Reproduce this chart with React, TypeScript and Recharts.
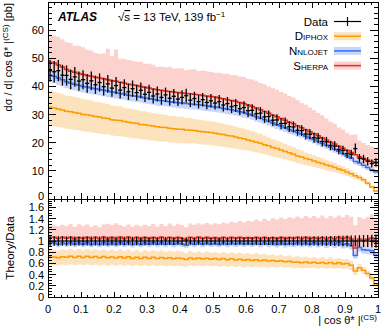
import React from "react";
import { ComposedChart, Area, Line, Scatter, ErrorBar, XAxis, YAxis } from "recharts";

// |cos θ*| bins, width 0.0125 from 0 to 1
const binWidth = 0.0125;

const data = [
  45.6, 45.2, 45.6, 44.0, 43.9, 42.5, 43.4, 41.9, 42.4, 41.1,
  42.0, 40.6, 41.4, 39.9, 40.9, 39.4, 40.3, 38.7, 39.6, 38.1,
  39.2, 37.8, 38.6, 37.2, 37.9, 36.6, 37.3, 36.1, 37.0, 35.8,
  36.5, 35.5, 36.1, 36.7, 35.1, 35.7, 34.6, 35.3, 34.3, 34.9,
  34.1, 34.6, 33.4, 33.9, 32.8, 33.2, 32.1, 32.5, 31.4, 31.5,
  30.3, 30.5, 29.2, 29.3, 28.0, 28.1, 26.8, 26.9, 25.7, 25.6,
  24.4, 24.3, 23.1, 23.0, 21.8, 21.6, 20.4, 20.3, 19.0, 18.8,
  17.5, 17.3, 16.1, 15.9, 17.9, 14.5, 14.2, 13.4, 12.6, 13.0,
];
const dataErrPct = [
  8.5, 8.4, 8.3, 8.4, 8.2, 8.3, 8.1, 8.2, 8.0, 8.1,
  7.9, 8.0, 7.8, 7.9, 7.7, 7.8, 7.6, 7.7, 7.5, 7.6,
  7.4, 7.5, 7.3, 7.4, 7.2, 7.3, 7.1, 7.2, 7.0, 7.1,
  7.0, 6.9, 7.0, 6.8, 6.9, 6.8, 6.9, 6.8, 6.9, 6.8,
  6.8, 6.9, 6.8, 6.9, 6.9, 7.0, 6.9, 7.0, 7.1, 7.0,
  7.2, 7.1, 7.3, 7.2, 7.4, 7.3, 7.5, 7.6, 7.5, 7.7,
  7.8, 7.9, 8.0, 8.1, 8.2, 8.4, 8.5, 8.7, 8.8, 9.0,
  9.2, 9.4, 9.6, 9.8, 10.0, 10.3, 10.6, 10.9, 11.2, 11.5,
];

const sherpa = [
  48.6, 48.3, 47.6, 46.9, 46.0, 45.4, 45.0, 44.6, 44.2, 43.9,
  43.6, 43.3, 43.0, 42.7, 42.4, 42.0, 41.8, 41.5, 41.2, 40.8,
  40.6, 40.3, 40.0, 39.7, 39.4, 39.1, 38.8, 38.6, 38.4, 38.2,
  38.0, 37.8, 37.7, 37.5, 37.4, 37.2, 37.0, 36.8, 36.6, 36.4,
  36.2, 35.9, 35.6, 35.3, 35.0, 34.7, 34.3, 33.9, 33.4, 32.9,
  32.3, 31.7, 31.1, 30.5, 29.8, 29.2, 28.6, 28.0, 27.3, 26.7,
  26.0, 25.3, 24.6, 23.9, 23.2, 22.5, 21.7, 21.0, 20.2, 19.5,
  18.7, 18.0, 17.2, 16.5, 15.7, 15.0, 14.4, 13.8, 13.3, 12.8,
];
const sherpaUpPct = [
  20, 20, 21, 21, 21, 22, 21, 22, 22, 21,
  21, 20, 20, 21, 26, 21, 27, 20, 21, 21,
  21, 21, 22, 21, 22, 22, 21, 22, 22, 23,
  22, 23, 23, 22, 23, 24, 23, 24, 24, 24,
  24, 25, 25, 26, 26, 27, 27, 28, 28, 29,
  30, 30, 31, 31, 32, 33, 33, 34, 34, 35,
  35, 35, 36, 36, 36, 36, 37, 36, 36, 37,
  36, 37, 37, 38, 46, 38, 38, 39, 40, 40,
];
const sherpaDnPct = [
  14, 14, 15, 14, 14, 13, 14, 14, 13, 14,
  14, 13, 14, 14, 13, 14, 14, 13, 14, 14,
  13, 14, 14, 13, 14, 14, 13, 14, 14, 13,
  14, 14, 13, 14, 14, 13, 14, 14, 13, 14,
  14, 13, 14, 14, 13, 14, 14, 13, 14, 14,
  13, 14, 14, 13, 14, 14, 13, 14, 14, 13,
  14, 14, 13, 14, 14, 13, 14, 14, 13, 14,
  14, 13, 14, 14, 13, 14, 14, 13, 14, 14,
];

const nnlojet = [
  44.0, 43.6, 43.0, 42.4, 41.7, 41.1, 40.8, 40.4, 40.0, 39.8,
  39.4, 39.2, 38.9, 38.6, 38.4, 38.0, 37.8, 37.5, 37.3, 36.9,
  36.7, 36.5, 36.2, 35.9, 35.7, 35.4, 35.1, 34.9, 34.8, 34.6,
  34.4, 34.2, 34.1, 33.9, 33.8, 33.6, 33.5, 33.3, 33.1, 32.9,
  32.7, 32.5, 32.2, 31.9, 31.7, 31.4, 31.0, 30.7, 30.2, 29.8,
  29.2, 28.7, 28.2, 27.6, 27.0, 26.4, 25.9, 25.3, 24.7, 24.2,
  23.6, 23.0, 22.3, 21.7, 21.1, 20.4, 19.7, 19.1, 18.4, 17.7,
  17.0, 16.2, 15.3, 14.6, 13.3, 12.8, 12.0, 11.2, 10.4, 9.7,
];
const nnlojetUpPct = [
  4.5, 4.4, 4.6, 4.5, 4.4, 4.6, 4.5, 4.4, 4.6, 4.5,
  4.5, 4.4, 4.6, 4.5, 4.4, 4.6, 4.5, 4.4, 4.6, 4.5,
  4.5, 4.4, 4.6, 4.5, 4.4, 4.6, 4.5, 4.4, 4.6, 4.5,
  4.5, 4.4, 4.6, 4.5, 4.4, 4.6, 4.5, 4.4, 4.6, 4.5,
  4.5, 4.4, 4.6, 4.5, 4.4, 4.6, 4.5, 4.4, 4.6, 4.5,
  4.5, 4.6, 4.6, 4.7, 4.7, 4.8, 4.8, 4.9, 4.9, 5.0,
  5.0, 5.1, 5.1, 5.2, 5.2, 5.3, 5.4, 5.5, 5.6, 5.7,
  5.8, 6.0, 6.2, 6.4, 6.6, 6.8, 7.0, 7.2, 7.4, 7.6,
];
const nnlojetDnPct = [
  5.5, 5.6, 5.4, 5.5, 5.6, 5.4, 5.5, 5.6, 5.4, 5.5,
  5.5, 5.6, 5.4, 5.5, 5.6, 5.4, 5.5, 5.6, 5.4, 5.5,
  5.5, 5.6, 5.4, 5.5, 5.6, 5.4, 5.5, 5.6, 5.4, 5.5,
  5.5, 5.6, 5.4, 5.5, 5.6, 5.4, 5.5, 5.6, 5.4, 5.5,
  5.5, 5.6, 5.4, 5.5, 5.6, 5.4, 5.5, 5.6, 5.4, 5.5,
  5.6, 5.6, 5.7, 5.7, 5.8, 5.8, 5.9, 5.9, 6.0, 6.0,
  6.1, 6.2, 6.3, 6.4, 6.5, 6.6, 6.7, 6.8, 6.9, 7.0,
  7.2, 7.4, 7.6, 7.8, 8.0, 8.3, 8.6, 8.9, 9.2, 9.5,
];

const diphox = [
  32.6, 32.3, 32.0, 31.6, 31.2, 31.0, 30.7, 30.5, 30.0, 29.9,
  29.7, 29.3, 29.1, 28.8, 28.6, 28.2, 28.0, 27.9, 27.5, 27.3,
  27.0, 26.9, 26.5, 26.4, 26.1, 25.9, 25.7, 25.5, 25.4, 25.1,
  25.0, 24.8, 24.8, 24.5, 24.4, 24.3, 24.1, 23.9, 23.8, 23.6,
  23.4, 23.1, 22.9, 22.6, 22.4, 22.0, 21.7, 21.4, 21.0, 20.6,
  20.2, 19.8, 19.3, 18.9, 18.3, 17.9, 17.4, 16.9, 16.4, 15.9,
  15.3, 14.9, 14.4, 14.0, 13.5, 13.0, 12.6, 12.1, 11.7, 11.2,
  10.7, 10.2, 9.6, 9.0, 8.3, 7.6, 6.8, 5.6, 4.3, 2.8,
];
const diphoxUpPct = [
  18, 18, 18, 18, 18, 18, 18, 18, 18, 18,
  18, 18, 18, 18, 18, 18, 18, 18, 18, 18,
  18, 18, 18, 18, 18, 18, 18, 18, 18, 18,
  18, 18, 18, 18, 18, 17, 17, 17, 17, 17,
  17, 17, 17, 17, 17, 17, 17, 17, 17, 17,
  17, 17, 17, 16, 16, 16, 16, 16, 16, 16,
  16, 16, 15, 15, 15, 15, 15, 15, 15, 14,
  14, 14, 14, 14, 14, 13, 13, 13, 13, 13,
];
const diphoxDnPct = [
  20, 20, 20, 20, 20, 20, 20, 20, 20, 20,
  20, 20, 20, 20, 20, 20, 20, 20, 20, 20,
  20, 20, 20, 20, 20, 20, 20, 20, 20, 20,
  20, 20, 20, 19, 19, 19, 19, 19, 19, 19,
  19, 19, 19, 19, 19, 19, 19, 19, 18, 18,
  18, 18, 18, 18, 18, 18, 17, 17, 17, 17,
  17, 17, 17, 16, 16, 16, 16, 16, 16, 15,
  15, 15, 15, 15, 15, 14, 14, 14, 14, 14,
];

// axis ticks
const xMajor = [0, 0.1, 0.2, 0.3, 0.4, 0.5, 0.6, 0.7, 0.8, 0.9, 1];
const upperYMajor = [0, 10, 20, 30, 40, 50, 60, 70];
const ratioYMajor = [0, 0.2, 0.4, 0.6, 0.8, 1, 1.2, 1.4, 1.6];

const C = {
  data: "#000000",
  diphox: "#ff9900",
  diphoxBand: "#fde3bd",
  nnlojet: "#3a6cf4",
  nnlojetBand: "#c8d7f8",
  sherpa: "#ea2a1c",
  sherpaBand: "#fcd2ce",
};

const W = 390;
const PL = 48;
const PR = 378;
const UP_T = 2;
const UP_B = 199;
const LO_B = 98; // inside lower chart

const subdivide = (majors: number[], n: number) => {
  const out: number[] = [];
  for (let i = 0; i < majors.length - 1; i++) {
    const step = (majors[i + 1] - majors[i]) / n;
    for (let j = 0; j < n; j++) out.push(+(majors[i] + j * step).toFixed(4));
  }
  out.push(majors[majors.length - 1]);
  return out;
};

const isMajor = (v: number, majors: number[]) => majors.some((m) => Math.abs(m - v) < 1e-6);

const xTicks = subdivide(xMajor, 5);
const upperYTicks = subdivide(upperYMajor, 5);
const ratioYTicks = subdivide([0, 0.2, 0.4, 0.6, 0.8, 1, 1.2, 1.4, 1.6, 1.75], 4).filter((v) => v <= 1.75);

function buildRows(ratio: boolean) {
  const rows = data.map((d, i) => {
    const norm = ratio ? d : 1;
    const s = sherpa[i];
    const n = nnlojet[i];
    const p = diphox[i];
    return {
      x: +(binWidth * (i + 0.5)).toFixed(5),
      data: d / norm,
      dataErr: (d * dataErrPct[i]) / 100 / norm,
      halfBin: binWidth / 2,
      sherpa: s / norm,
      nnlojet: n / norm,
      diphox: p / norm,
      sherpaBand: [(s * (1 - sherpaDnPct[i] / 100)) / norm, (s * (1 + sherpaUpPct[i] / 100)) / norm],
      nnlojetBand: [(n * (1 - nnlojetDnPct[i] / 100)) / norm, (n * (1 + nnlojetUpPct[i] / 100)) / norm],
      diphoxBand: [(p * (1 - diphoxDnPct[i] / 100)) / norm, (p * (1 + diphoxUpPct[i] / 100)) / norm],
    };
  });
  // close the histograms at the outer bin edges
  return [{ ...rows[0], x: 0 }, ...rows, { ...rows[rows.length - 1], x: 1 }];
}

const upperRows = buildRows(false);
const ratioRows = buildRows(true);

const tickFont = { fontSize: 11, fill: "#000" };

function yTick(majors: number[], labelled: (v: number) => string | null, shiftZero = 0) {
  return (p: any) => {
    const v = p.payload.value;
    const major = isMajor(v, majors);
    const len = major ? 8 : 4;
    const label = major ? labelled(v) : null;
    return (
      <g shapeRendering="crispEdges">
        <line x1={PL} x2={PL + len} y1={p.y} y2={p.y} stroke="#000" />
        <line x1={PR - len} x2={PR} y1={p.y} y2={p.y} stroke="#000" />
        {label !== null && (
          <text x={PL - 4} y={p.y - (v === 0 ? shiftZero : 0)} textAnchor="end" dominantBaseline="central" {...tickFont}>
            {label}
          </text>
        )}
      </g>
    );
  };
}

function xTick(top: number, bottom: number, topLen: number, botLen: number, withLabels: boolean) {
  return (p: any) => {
    const v = p.payload.value;
    const major = isMajor(v, xMajor);
    return (
      <g shapeRendering="crispEdges">
        <line x1={p.x} x2={p.x} y1={bottom} y2={bottom - (major ? botLen : botLen / 2)} stroke="#000" />
        <line x1={p.x} x2={p.x} y1={top} y2={top + (major ? topLen : topLen / 2)} stroke="#000" />
        {withLabels && major && (
          <text x={p.x} y={bottom + 11.5} textAnchor="middle" dominantBaseline="central" {...tickFont}>
            {String(v)}
          </text>
        )}
      </g>
    );
  };
}

const fmtRatio = (v: number) => (v === 0 ? "0" : v === 1 ? "1" : v.toFixed(1));

const bands = [
  { key: "sherpaBand", color: C.sherpaBand },
  { key: "diphoxBand", color: C.diphoxBand },
  { key: "nnlojetBand", color: C.nnlojetBand },
];
const lines = [
  { key: "diphox", color: C.diphox },
  { key: "nnlojet", color: C.nnlojet },
  { key: "sherpa", color: C.sherpa },
];

function Series(rows: any[]) {
  return [
    ...bands.map((b) => (
      <Area
        key={b.key}
        dataKey={b.key}
        type="step"
        stroke="none"
        fill={b.color}
        fillOpacity={1}
        isAnimationActive={false}
      />
    )),
    ...lines.map((l) => (
      <Line
        key={l.key}
        dataKey={l.key}
        type="step"
        stroke={l.color}
        strokeWidth={1.5}
        dot={false}
        isAnimationActive={false}
      />
    )),
    <Scatter key="data" data={rows.slice(1, -1)} dataKey="data" shape={() => <g />} isAnimationActive={false}>
      <ErrorBar dataKey="dataErr" direction="y" width={0} stroke={C.data} strokeWidth={1.3} isAnimationActive={false} />
      <ErrorBar dataKey="halfBin" direction="x" width={0} stroke={C.data} strokeWidth={1.3} isAnimationActive={false} />
    </Scatter>,
  ];
}

const legendRows = [
  { label: "Data", kind: "data", color: C.data, band: "" },
  { label: "Diphox", kind: "theory", color: C.diphox, band: C.diphoxBand },
  { label: "Nnlojet", kind: "theory", color: C.nnlojet, band: C.nnlojetBand },
  { label: "Sherpa", kind: "theory", color: C.sherpa, band: C.sherpaBand },
];

function Overlay() {
  return (
    <svg width={W} height={331} style={{ position: "absolute", left: 0, top: 0, pointerEvents: "none" }}>
      <text x={58} y={21} fontSize={12} fontWeight="bold" fontStyle="italic">ATLAS</text>
      <text x={118} y={21} fontSize={11.5}>
        √<tspan textDecoration="overline">s</tspan> = 13 TeV, 139 fb
        <tspan dy={-4} fontSize={8}>−1</tspan>
      </text>
      {legendRows.map((r, i) => {
        const cy = 21.5 + i * 14.7;
        return (
          <g key={r.label}>
            <text
              x={328}
              y={cy + 4}
              fontSize={11.5}
              textAnchor="end"
              style={{ fontVariant: i === 0 ? "normal" : "small-caps" }}
            >
              {r.label}
            </text>
            {r.kind === "theory" && <rect x={334} y={cy - 4} width={27} height={8} fill={r.band} />}
            <line x1={334} x2={361} y1={cy} y2={cy} stroke={r.color} strokeWidth={r.kind === "data" ? 1.2 : 1.5} />
            {r.kind === "data" && <line x1={347.5} x2={347.5} y1={cy - 4.5} y2={cy + 4.5} stroke="#000" strokeWidth={1.2} />}
          </g>
        );
      })}
      <text transform="rotate(-90)" x={-3} y={11.5} fontSize={11} textAnchor="end">
        dσ / d| cos θ* |<tspan dy={-4} fontSize={8}>(CS)</tspan>
        <tspan dy={4}> [pb]</tspan>
      </text>
      <text transform="rotate(-90)" x={-248} y={14} fontSize={11.5} textAnchor="middle">
        Theory/Data
      </text>
      <text x={377} y={324} fontSize={11} textAnchor="end">
        | cos θ* |<tspan dy={-4} fontSize={8}>(CS)</tspan>
      </text>
    </svg>
  );
}

const frame = (top: number, height: number): React.CSSProperties => ({
  position: "absolute",
  left: PL,
  top,
  width: PR - PL + 1,
  height,
  border: "1px solid #000",
  boxSizing: "border-box",
  pointerEvents: "none",
});

export default function App() {
  return (
    <div
      style={{
        position: "absolute",
        left: 0,
        top: 0,
        width: W,
        height: 331,
        background: "#fff",
        fontFamily: "'Liberation Sans', Arial, sans-serif",
      }}
    >
      <div style={{ position: "absolute", left: 0, top: 0 }}>
        <ComposedChart width={W} height={208} data={upperRows} margin={{ top: UP_T, right: W - PR, bottom: 8, left: 0 }}>
          <XAxis
            dataKey="x"
            type="number"
            domain={[0, 1]}
            ticks={xTicks}
            interval={0}
            height={1}
            axisLine={false}
            tickLine={false}
            tickSize={0}
            tickMargin={0}
            tick={xTick(UP_T, UP_B, 6, 6, false)}
          />
          <YAxis
            type="number"
            domain={[0, 70]}
            ticks={upperYTicks}
            interval={0}
            width={PL}
            allowDataOverflow
            axisLine={false}
            tickLine={false}
            tickSize={0}
            tickMargin={0}
            tick={yTick(upperYMajor, (v) => (v >= 70 ? null : String(v)), 3.5)}
          />
          {Series(upperRows)}
        </ComposedChart>
      </div>
      <div style={{ position: "absolute", left: 0, top: UP_B }}>
        <ComposedChart width={W} height={132} data={ratioRows} margin={{ top: 0, right: W - PR, bottom: 0, left: 0 }}>
          <XAxis
            dataKey="x"
            type="number"
            domain={[0, 1]}
            ticks={xTicks}
            interval={0}
            height={34}
            axisLine={false}
            tickLine={false}
            tickSize={0}
            tickMargin={0}
            tick={xTick(0, LO_B, 5, 5, true)}
          />
          <YAxis
            type="number"
            domain={[0, 1.75]}
            ticks={ratioYTicks}
            interval={0}
            width={PL}
            allowDataOverflow
            axisLine={false}
            tickLine={false}
            tickSize={0}
            tickMargin={0}
            tick={yTick(ratioYMajor, fmtRatio)}
          />
          {Series(ratioRows)}
        </ComposedChart>
      </div>
      <div style={frame(UP_T, UP_B - UP_T + 1)} />
      <div style={frame(UP_B, LO_B + 1)} />
      <Overlay />
    </div>
  );
}
